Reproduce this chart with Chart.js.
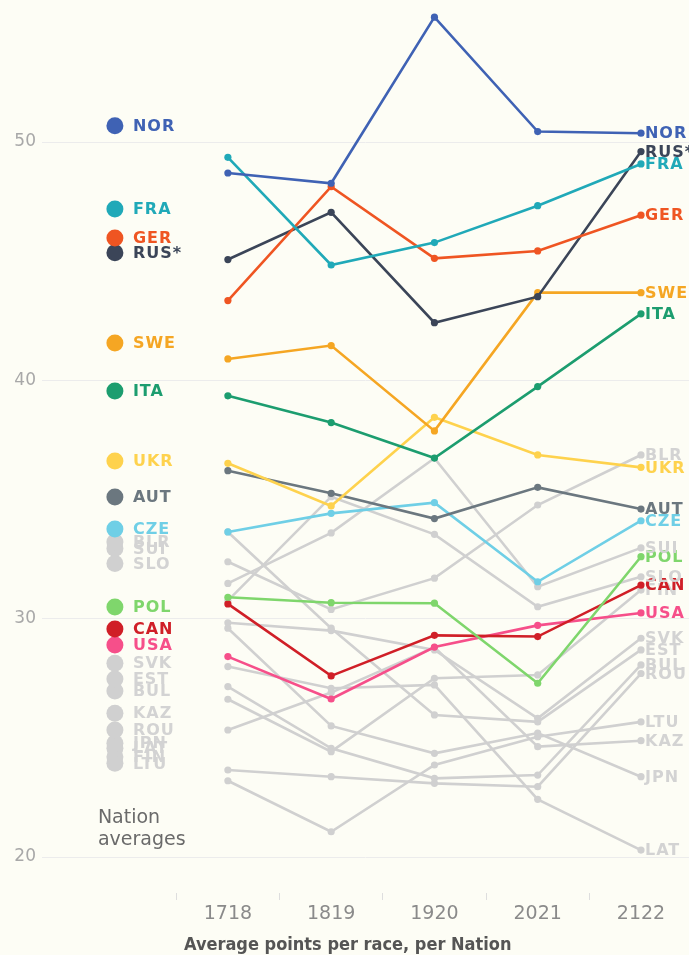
<!DOCTYPE html>
<html>
<head>
<meta charset="utf-8">
<script src="https://cdn.jsdelivr.net/npm/chart.js@4.4.1/dist/chart.umd.min.js"></script>
<style>
  html,body{margin:0;padding:0;background:#fdfdf5;overflow:hidden;}
  #wrap{position:relative;width:689px;height:955px;}
</style>
</head>
<body>
<div id="wrap"><canvas id="nations"></canvas></div>
<script>
const seasons = ['1718','1819','1920','2021','2122'];
const nations = ['NOR','FRA','GER','RUS*','SWE','ITA','UKR','AUT','CZE','POL','CAN','USA',
                 'BLR','SUI','SLO','FIN','SVK','EST','BUL','ROU','LTU','KAZ','JPN','LAT'];

// average points per race, per season
const nor = [48.70, 48.27, 55.24, 50.44, 50.37];
const fra = [49.36, 44.84, 45.78, 47.33, 49.08];
const ger = [43.35, 48.13, 45.12, 45.43, 46.93];
const rus = [45.07, 47.05, 42.42, 43.51, 49.60];
const swe = [40.90, 41.46, 37.88, 43.68, 43.68];
const ita = [39.35, 38.23, 36.74, 39.74, 42.79];
const ukr = [36.52, 34.73, 38.45, 36.87, 36.35];
const aut = [36.21, 35.26, 34.20, 35.51, 34.60];
const cze = [33.64, 34.42, 34.87, 31.55, 34.11];
const pol = [30.90, 30.67, 30.65, 27.29, 32.60];
const can = [30.62, 27.60, 29.30, 29.25, 31.41];
const usa = [28.41, 26.63, 28.81, 29.72, 30.24];
const blr = [32.39, 30.39, 31.70, 34.77, 36.87];
const sui = [31.48, 33.60, 36.73, 31.34, 32.97];
const slo = [30.76, 35.12, 33.54, 30.50, 31.76];
const fin = [26.62, 24.42, 27.50, 27.64, 31.20];
const svk = [29.83, 29.50, 28.69, 25.82, 29.18];
const est = [33.64, 29.60, 25.96, 25.67, 28.69];
const bul = [27.15, 24.56, 23.30, 23.44, 28.06];
const rou = [23.65, 23.37, 23.09, 22.95, 27.70];
const ltu = [23.20, 21.06, 23.86, 25.05, 25.67];
const kaz = [25.33, 26.90, 28.80, 24.63, 24.88];
const jpn = [29.60, 25.50, 24.35, 25.20, 23.37];
const lat = [27.99, 27.08, 27.22, 22.42, 20.29];

// nation averages (left column)
const averages = [50.68, 47.19, 45.97, 45.35, 41.57, 39.55, 36.62, 35.11, 33.76, 30.49, 29.57, 28.90,
                  33.22, 32.95, 32.32, 24.21, 28.13, 27.47, 26.97, 25.33, 23.93, 26.03, 24.77, 24.56];

const series = [nor, fra, ger, rus, swe, ita, ukr, aut, cze, pol, can, usa,
                blr, sui, slo, fin, svk, est, bul, rou, ltu, kaz, jpn, lat];

const GREY = '#d0d0d0';
const colors = ['#3f62b4','#20a9b8','#ef5522','#3b4558','#f5a623','#1c9d6f','#fed24d','#6b777f',
                '#6fcfe6','#7fd66c','#d01f27','#f64f8a'];
const colorOf = i => colors[i] || GREY;

const AVG_X = -1.094;   // column of average dots, in season units
const X_MIN = -1.80, X_MAX = 4.465;

const byAvg = nations.map((_, i) => i).sort((a, b) => averages[a] - averages[b]);
const byLast = nations.map((_, i) => i).sort((a, b) => series[a][4] - series[b][4]);

const lineSets = series.map((vals, i) => ({
  label: nations[i],
  data: vals.map((v, k) => ({x: k, y: v})),
  borderColor: colorOf(i),
  backgroundColor: colorOf(i),
  pointBackgroundColor: colorOf(i),
  borderWidth: 2.6,
  pointRadius: 3.6,
  pointBorderWidth: 0,
  tension: 0,
  clip: false
}));

const avgSet = {
  type: 'scatter',
  label: 'Nation averages',
  data: byAvg.map(i => ({x: AVG_X, y: averages[i]})),
  pointBackgroundColor: byAvg.map(colorOf),
  pointBorderWidth: 0,
  pointRadius: 8.5,
  showLine: false,
  clip: false
};

const labelPlugin = {
  id: 'nationLabels',
  afterDatasetsDraw(chart) {
    const ctx = chart.ctx, xs = chart.scales.x, ys = chart.scales.y;
    ctx.save();
    ctx.textBaseline = 'middle';
    ctx.textAlign = 'left';
    ctx.font = 'bold 16px "DejaVu Sans"';
    ctx.letterSpacing = '1px';
    const lblColor = i => colors[i] || '#d3d3d3';
    byAvg.forEach(i => {
      ctx.fillStyle = lblColor(i);
      ctx.fillText(nations[i], xs.getPixelForValue(AVG_X) + 18, ys.getPixelForValue(averages[i]) + 1);
    });
    byLast.forEach(i => {
      const pts = chart.getDatasetMeta(i).data;
      const p = pts[pts.length - 1];
      ctx.fillStyle = lblColor(i);
      ctx.fillText(nations[i], p.x + 4, p.y + 1);
    });
    // annotation under the average column
    ctx.letterSpacing = '0px';
    ctx.font = '19px "DejaVu Sans"';
    ctx.fillStyle = '#6a6a6a';
    const ax = xs.getPixelForValue(AVG_X) - 17;
    ctx.fillText('Nation', ax, ys.getPixelForValue(21.64));
    ctx.fillText('averages', ax, ys.getPixelForValue(20.71));
    // axis caption
    ctx.font = 'bold 18px "DejaVu Sans Condensed", "DejaVu Sans"';
    ctx.fillStyle = '#555';
    ctx.fillText('Average points per race, per Nation', 184, chart.height - 10);
    ctx.restore();
  }
};

const noPad = ax => { ax.paddingLeft = 0; ax.paddingRight = 0; ax.paddingTop = 0; ax.paddingBottom = 0; };

new Chart(document.getElementById('nations'), {
  type: 'line',
  data: {datasets: [...lineSets, avgSet]},
  plugins: [labelPlugin],
  options: {
    responsive: true, maintainAspectRatio: false, animation: false,
    layout: {padding: 0, autoPadding: false},
    plugins: {legend: {display: false}, tooltip: {enabled: false}},
    scales: {
      x: {
        type: 'linear', position: 'bottom', min: X_MIN, max: X_MAX,
        afterBuildTicks: ax => { ax.ticks = seasons.map((s, i) => ({value: i - 0.5})); },
        afterFit: ax => { ax.height = 10; noPad(ax); },
        grid: {drawOnChartArea: false, drawTicks: true, tickLength: 7, color: '#dedede'},
        border: {display: false},
        ticks: {display: false}
      },
      xl: {
        type: 'linear', position: 'bottom', min: X_MIN, max: X_MAX,
        afterBuildTicks: ax => { ax.ticks = seasons.map((s, i) => ({value: i})); },
        afterFit: ax => { ax.height = 52; noPad(ax); },
        grid: {display: false, drawTicks: false},
        border: {display: false},
        ticks: {callback: (v, i) => seasons[i], autoSkip: false, maxRotation: 0, padding: 0,
                color: '#8a8a8a', font: {family: '"DejaVu Sans"', size: 19}}
      },
      y: {
        min: 18.49, max: 55.96,
        afterFit: ax => { ax.width = 42; noPad(ax); },
        ticks: {stepSize: 10, includeBounds: false, padding: 6, color: '#a8a8a8',
                font: {family: '"DejaVu Sans"', size: 17}},
        grid: {color: '#ececec', drawTicks: false, lineWidth: 1},
        border: {display: false}
      }
    }
  }
});
</script>
</body>
</html>
